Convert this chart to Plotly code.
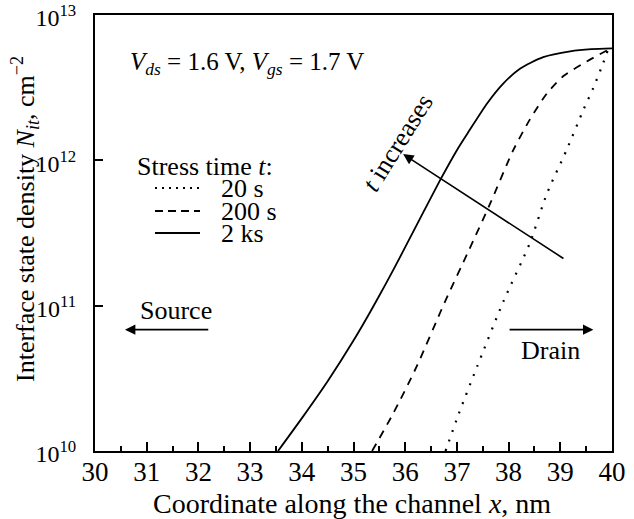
import plotly.graph_objects as go

# ---- data (x in nm, log10 of N_it in cm^-2) ----
x_20s = [36.78, 37.04, 37.39, 37.90, 38.41, 38.74, 39.12, 39.45, 39.64, 39.83, 39.92]
lg_20s = [10.00, 10.26, 10.58, 11.03, 11.43, 11.77, 12.07, 12.35, 12.50, 12.67, 12.76]

x_200s = [35.36, 35.77, 36.22, 36.76, 37.23, 37.64, 38.09, 38.41, 38.74, 39.06, 39.51, 39.92]
lg_200s = [10.00, 10.26, 10.58, 11.02, 11.38, 11.70, 12.07, 12.28, 12.46, 12.58, 12.68, 12.76]

x_2ks = [33.54, 34.03, 34.50, 35.00, 35.32, 35.64, 35.96, 36.67, 37.00, 37.25, 37.58, 37.90, 38.22, 38.67, 39.19, 39.60, 40.00]
lg_2ks = [10.00, 10.24, 10.48, 10.76, 10.955, 11.16, 11.375, 11.86, 12.07, 12.21, 12.39, 12.53, 12.63, 12.71, 12.75, 12.765, 12.77]

series_names = ["20 s", "200 s", "2 ks"]
x_ticks = list(range(30, 41))
y_tickvals = [1e10, 1e11, 1e12, 1e13]
y_ticktext = ["10<sup>10</sup>", "10<sup>11</sup>", "10<sup>12</sup>", "10<sup>13</sup>"]

FONT = "Liberation Serif, Times New Roman, serif"

# plot area in pixels
W, H = 634, 519
ML, MR, MT, MB = 95, 22, 15, 68
PW, PH = W - ML - MR, H - MT - MB


def px(xp):
    return (xp - ML) / PW


def py(yp):
    return (H - MB - yp) / PH


def txt(text, xp, yp, size=26, angle=0, xanchor="center"):
    return dict(xref="paper", yref="paper", x=px(xp), y=py(yp), xanchor=xanchor, yanchor="middle",
                text=text, showarrow=False, textangle=angle,
                font=dict(size=size, family=FONT, color="black"))


fig = go.Figure()
styles = [
    dict(dash="2px,8px", width=2.2),
    dict(dash="8px,7px", width=1.8),
    dict(dash="solid", width=1.8),
]
for xs, lgs, name, st in zip([x_20s, x_200s, x_2ks], [lg_20s, lg_200s, lg_2ks], series_names, styles):
    fig.add_trace(go.Scatter(
        x=xs, y=[10 ** v for v in lgs], mode="lines", name=name,
        line=dict(color="black", width=st["width"], dash=st["dash"], shape="spline", smoothing=0.7),
        showlegend=False,
    ))

shapes = []
annotations = []

# manual legend
annotations.append(txt("Stress time <i>t</i>:", 135, 166, xanchor="left"))
leg_y = [188, 211, 233]
leg_dash = ["2px,5px", "8px,5px", "solid"]
for name, st, dsh, yy in zip(series_names, styles, leg_dash, leg_y):
    shapes.append(dict(type="line", xref="paper", yref="paper", x0=px(155), x1=px(200), y0=py(yy), y1=py(yy),
                       line=dict(color="black", width=st["width"], dash=dsh)))
    annotations.append(txt(name, 219, yy, xanchor="left"))

# condition text
annotations.append(txt("<i>V</i><sub><i>ds</i></sub> = 1.6 V, <i>V</i><sub><i>gs</i></sub> = 1.7 V",
                       128, 63, size=25, xanchor="left"))

# t increases arrow
annotations.append(dict(x=35.96, y=12.043, ax=39.09, ay=11.318, xref="x", yref="y", axref="x", ayref="y",
                        text="", showarrow=True, arrowhead=2, arrowsize=1.3, arrowwidth=1.6, arrowcolor="black"))
annotations.append(txt("<i>t</i> increases", 397, 143, angle=-58))

# Source / Drain arrows
annotations.append(dict(x=30.58, y=10.835, ax=32.22, ay=10.835, xref="x", yref="y", axref="x", ayref="y",
                        text="", showarrow=True, arrowhead=2, arrowsize=1.3, arrowwidth=1.6, arrowcolor="black"))
annotations.append(dict(x=39.64, y=10.835, ax=37.99, ay=10.835, xref="x", yref="y", axref="x", ayref="y",
                        text="", showarrow=True, arrowhead=2, arrowsize=1.3, arrowwidth=1.6, arrowcolor="black"))
annotations.append(txt("Source", 175.5, 311))
annotations.append(txt("Drain", 550.5, 350))

# axis titles
annotations.append(txt("Coordinate along the channel <i>x</i>, nm", 352, 503, size=28))
annotations.append(txt("Interface state density <i>N</i><sub><i>it</i></sub>, cm<sup>\u22122</sup>", 25, 219, angle=-90))

fig.update_layout(
    width=W, height=H,
    margin=dict(l=ML, r=MR, t=MT, b=MB, pad=0, autoexpand=False),
    paper_bgcolor="white", plot_bgcolor="white",
    font=dict(family=FONT, size=26, color="black"),
    shapes=shapes, annotations=annotations,
    xaxis=dict(range=[30, 40], tickvals=x_ticks, ticks="inside", ticklen=9, tickwidth=1.5, tickcolor="black",
               showline=True, linewidth=2, linecolor="black", mirror=True, showgrid=False, zeroline=False,
               minor=dict(dtick=0.5, ticks="inside", ticklen=5, tickwidth=1.5, tickcolor="black", showgrid=False),
               tickfont=dict(size=27, family=FONT, color="black"), ticklabelstandoff=-4,
               ticklabeloverflow="allow", automargin=False),
    yaxis=dict(type="log", range=[10, 13.0002], tickvals=y_tickvals, ticktext=y_ticktext, ticks="inside", ticklen=8,
               tickwidth=1.5, tickcolor="black", showline=True, linewidth=2, linecolor="black", mirror=True,
               showgrid=False, zeroline=False, tickfont=dict(size=24, family=FONT, color="black"),
               ticklabelstandoff=12, ticklabelshift=3, ticklabeloverflow="allow", automargin=False),
)

fig.write_html("out.html")
